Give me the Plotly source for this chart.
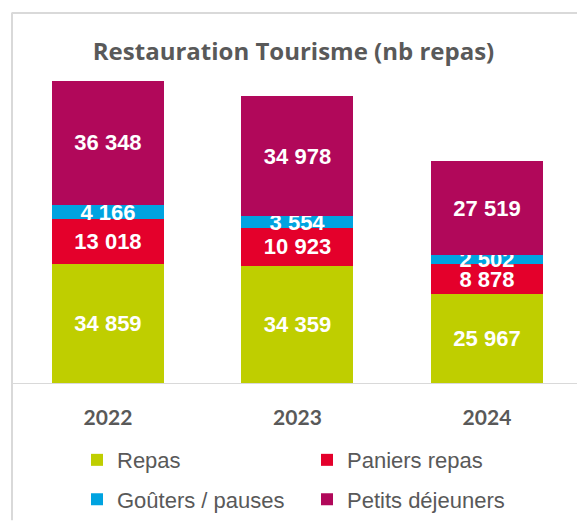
import plotly.graph_objects as go

years = ["2022", "2023", "2024"]
repas = [34859, 34359, 25967]
paniers = [13018, 10923, 8878]
gouters = [4166, 3554, 2502]
petits = [36348, 34978, 27519]

series = [
    ("Repas", repas, "#BFCE00", "legend"),
    ("Paniers repas", paniers, "#E4002B", "legend"),
    ("Goûters / pauses", gouters, "#00A3E0", "legend2"),
    ("Petits déjeuners", petits, "#B1085A", "legend2"),
]

def fmt(v):
    return f"{v:,}".replace(",", " ")

fig = go.Figure()
for name, vals, color, leg in series:
    fig.add_trace(go.Bar(
        x=years, y=vals, name=name, legend=leg,
        marker=dict(color=color, line=dict(width=0)),
        text=[fmt(v) for v in vals],
        textposition="inside", insidetextanchor="middle",
        textfont=dict(family="Liberation Sans", size=22, color="white", weight="bold"),
        hoverinfo="skip",
    ))

W, H = 577, 521
L, R, T, B = 13, 0, 60, 134
PW, PH = W - L - R, H - T - B

def px_x(p):
    return (p - L) / PW

def px_y(p):
    return (H - B - p) / PH

fig.update_layout(
    width=W, height=H,
    margin=dict(l=L, r=R, t=T, b=B, pad=0),
    barmode="stack", bargap=0.409,
    plot_bgcolor="white", paper_bgcolor="white",
    uniformtext=dict(minsize=22, mode="show"),
    title=dict(text="<b>Restauration Tourisme (nb repas)</b>",
               x=293.5 / W, xanchor="center", y=1 - 52 / H, yanchor="middle",
               xref="container", yref="container",
               font=dict(family="Open Sans", size=24, color="#595959")),
    xaxis=dict(range=[-0.501, 2.475], showline=True, linecolor="#D9D9D9", linewidth=1,
               ticks="", ticklabelstandoff=16,
               tickfont=dict(family="Lato", size=21, color="#595959", weight="bold"),
               showgrid=False, zeroline=False, fixedrange=True),
    yaxis=dict(range=[0, 94458], visible=False, showgrid=False, zeroline=False),
    legend=dict(orientation="h", x=px_x(77), xanchor="left", y=px_y(465), yanchor="middle",
                entrywidth=185, entrywidthmode="pixels", traceorder="normal",
                font=dict(family="Liberation Sans", size=22, color="#595959"),
                bgcolor="rgba(0,0,0,0)"),
    legend2=dict(orientation="h", x=px_x(77), xanchor="left", y=px_y(505), yanchor="middle",
                 entrywidth=185, entrywidthmode="pixels", traceorder="normal",
                 font=dict(family="Liberation Sans", size=22, color="#595959"),
                 bgcolor="rgba(0,0,0,0)"),
    shapes=[
        dict(type="line", xref="paper", yref="paper", x0=px_x(12), x1=px_x(12),
             y0=px_y(12), y1=px_y(H + 5), line=dict(color="#D9D9D9", width=2)),
        dict(type="line", xref="paper", yref="paper", x0=px_x(12), x1=px_x(W + 5),
             y0=px_y(12.5), y1=px_y(12.5), line=dict(color="#D9D9D9", width=2)),
    ],
)

fig.write_html("out.html", config={"displayModeBar": False},
               post_script="document.body.style.margin='0';")
